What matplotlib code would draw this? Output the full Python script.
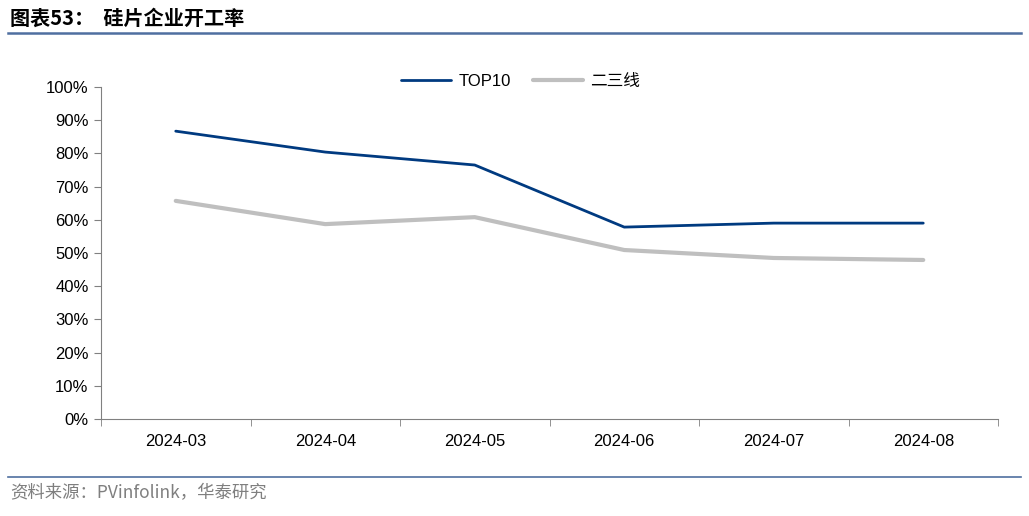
import matplotlib
matplotlib.use('Agg')
import matplotlib.pyplot as plt
from matplotlib.ticker import PercentFormatter, FixedLocator

plt.rcParams['font.family'] = ['Liberation Sans', 'Noto Sans CJK SC', 'DejaVu Sans']

# data (%)
months = ['2024-03', '2024-04', '2024-05', '2024-06', '2024-07', '2024-08']
top10 = [86.7, 80.4, 76.5, 57.8, 59.0, 59.0]
tier23 = [65.7, 58.7, 60.8, 50.9, 48.5, 47.9]

fig = plt.figure(figsize=(10.29, 5.16), dpi=100)
ax = fig.add_axes([101 / 1029, 97 / 516, 897 / 1029, 332 / 516])

x = list(range(len(months)))
ax.plot(x, top10, color='#003a80', lw=2.0, label='TOP10', solid_capstyle='round')
ax.plot(x, tier23, color='#bfbfbf', lw=3.0, label='二三线', solid_capstyle='round')

ax.set_xlim(-0.5, len(months) - 0.5)
ax.set_ylim(0, 100)
ax.set_yticks(range(0, 101, 10))
ax.yaxis.set_major_formatter(PercentFormatter(decimals=0))
ax.set_xticks(x)
ax.set_xticklabels(months)
ax.tick_params(axis='x', length=0, pad=11, labelsize=12)
ax.xaxis.set_minor_locator(FixedLocator([i - 0.5 for i in range(len(months) + 1)]))
ax.tick_params(axis='x', which='minor', length=5, direction='out', color='#808080')
ax.tick_params(axis='y', length=5, direction='out', color='#808080', labelsize=12, pad=4)

for s in ['top', 'right']:
    ax.spines[s].set_visible(False)
ax.spines['left'].set_color('#808080')
ax.spines['bottom'].set_color('#808080')

ax.legend(loc='upper center', bbox_to_anchor=(0.468, 1.085), ncol=2, frameon=False,
          fontsize=12, handlelength=3.0, columnspacing=1.3, handletextpad=0.45)

# header and footer
fig.text(10 / 1029, 1 - 18 / 516, '图表53：  硅片企业开工率', fontsize=14.5, fontweight='bold',
         va='center', ha='left', family=['Noto Sans CJK SC', 'DejaVu Sans'])
fig.add_artist(plt.Line2D([8 / 1029, 1021 / 1029], [1 - 33 / 516, 1 - 33 / 516], color='#4f6fa0', lw=1.8))
fig.add_artist(plt.Line2D([8 / 1029, 1021 / 1029], [1 - 477 / 516, 1 - 477 / 516], color='#4f6fa0', lw=1.2))
fig.text(10 / 1029, 1 - 493 / 516, '资料来源：PVinfolink，华泰研究', fontsize=12.5, color='#7f7f7f',
         va='center', ha='left', family=['Noto Sans CJK SC', 'DejaVu Sans'])

fig.savefig('out.png', dpi=100)
